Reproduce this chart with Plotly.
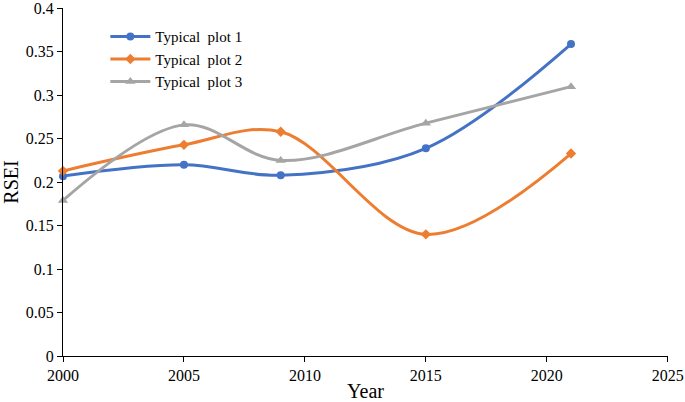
import plotly.graph_objects as go

# dados
anos = [2000, 2005, 2009, 2015, 2021]
plot1 = [0.207, 0.220, 0.208, 0.239, 0.359]
plot2 = [0.213, 0.243, 0.258, 0.140, 0.233]
plot3 = [0.179, 0.266, 0.225, 0.268, 0.310]
nomes = ["Typical  plot 1", "Typical  plot 2", "Typical  plot 3"]
x_ticks = [2000, 2005, 2010, 2015, 2020, 2025]
y_ticks = [0, 0.05, 0.1, 0.15, 0.2, 0.25, 0.3, 0.35, 0.4]
y_labels = ["0", "0.05", "0.1", "0.15", "0.2", "0.25", "0.3", "0.35", "0.4"]

cores = ["#4472C4", "#ED7D31", "#A5A5A5"]
simbolos = ["circle", "diamond", "triangle-up"]
tamanhos = [8, 8, 9]

fig = go.Figure()
for serie, nome, cor, simb, tam in zip([plot1, plot2, plot3], nomes, cores, simbolos, tamanhos):
    fig.add_trace(go.Scatter(
        x=anos, y=serie, name=nome, mode="lines+markers",
        line=dict(color=cor, width=3, shape="spline", smoothing=1),
        marker=dict(symbol=simb, size=tam, color=cor),
        cliponaxis=False,
    ))

eixo = dict(showline=True, linecolor="black", linewidth=1, ticks="outside",
            ticklen=5, tickcolor="black", showgrid=False, zeroline=False,
            automargin=False, ticklabeloverflow="allow",
            tickfont=dict(family="Liberation Serif", size=16, color="black"))

fig.update_layout(
    width=685, height=402,
    margin=dict(l=63, r=17, t=8, b=46),
    plot_bgcolor="white", paper_bgcolor="white",
    font=dict(family="Liberation Serif", size=16, color="black"),
    xaxis=dict(range=[2000, 2025.01], tickvals=x_ticks,
               title=dict(text="Year", font=dict(size=20), standoff=0), **eixo),
    yaxis=dict(range=[0, 0.4005], tickvals=y_ticks, ticktext=y_labels,
               title=dict(text="RSEI", font=dict(size=20), standoff=10), **eixo),
    legend=dict(x=0.07, y=0.965, xanchor="left", yanchor="top",
                bgcolor="rgba(0,0,0,0)", font=dict(size=15),
                itemwidth=40, tracegroupgap=0),
    showlegend=True,
)

# tira a margem padrão da página para a figura ocupar a janela toda
fig.write_html("out.html", config={"displayModeBar": False},
               post_script="document.body.style.margin='0';")
